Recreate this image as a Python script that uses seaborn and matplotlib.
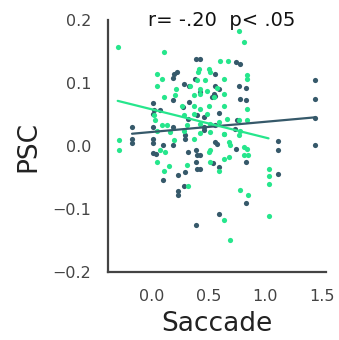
import numpy as np
import pandas as pd
import matplotlib
matplotlib.use('Agg')
import matplotlib.pyplot as plt
import seaborn as sns

# group 1 (bright green)
green_x = [-0.296, 0.114, 0.769, 0.810, 0.599, 0.672, 0.050, 0.096, 0.415, 0.406,
           0.509, 0.518, 0.401, 0.474, 0.640, 0.839, 0.839, 0.050, 0.219, 0.336,
           0.430, 0.488, 0.576, 0.108, 0.211, 0.371, 0.430, 0.547, 0.634, 0.269,
           0.371, 0.430, 0.503, 0.634, 0.839, 0.020, 0.035, 0.094, 0.138, 0.284,
           0.371, 0.488, 0.313, 0.430, 0.518, 0.591, 0.664, 0.766, 0.839, 0.050,
           0.167, 0.284, 0.518, 0.634, 0.775,
           -0.287, -0.287, 0.050, 0.108, 0.152, 0.196, 0.123, 0.313, 0.319, 0.371,
           0.430, 0.503, 0.518, 0.518, 0.591, 0.640, 0.678, 0.634, 0.678, 0.693,
           0.766, 0.810, 0.839, 0.816, 0.845, 1.029, 1.029, 1.029, 0.775, 0.845,
           0.640, 0.693, 1.029, 0.073]
green_y = [0.158, 0.149, 0.183, 0.165, 0.135, 0.135, 0.114, 0.106, 0.122, 0.117,
           0.123, 0.117, 0.105, 0.105, 0.106, 0.112, 0.107, 0.096, 0.090, 0.096,
           0.091, 0.088, 0.092, 0.078, 0.081, 0.081, 0.083, 0.078, 0.083, 0.064,
           0.064, 0.059, 0.063, 0.064, 0.059, 0.049, 0.041, 0.033, 0.034, 0.049,
           0.051, 0.051, 0.033, 0.035, 0.035, 0.038, 0.043, 0.042, 0.042, 0.024,
           0.022, 0.024, 0.022, 0.019, 0.024,
           0.009, -0.006, -0.026, -0.040, -0.031, 0.009, -0.010, -0.030, -0.064, 0.011,
           0.021, -0.010, -0.006, -0.025, -0.040, -0.021, -0.018, 0.019, 0.006, 0.001,
           0.018, -0.001, -0.005, -0.014, -0.014, -0.036, -0.047, -0.061, -0.070, -0.078,
           -0.117, -0.149, -0.111, -0.006]

# group 2 (dark slate)
dark_x = [0.395, 0.430, 0.746, 0.775, 0.196, 0.225, 0.190, 0.284, 0.327, 0.386,
          0.561, 0.561, 0.591, 0.430, 0.547, 0.532, 0.561, 0.766, 0.833, 0.775,
          0.833, 0.015, 0.190, 0.278, 0.327, 0.020, 0.015, 0.079, 0.324, 0.401,
          0.459, 0.591, 0.752, 1.439, 1.439, 1.439, -0.170, 0.015, 0.190, 0.459,
          0.561, 0.737,
          -0.170, -0.170, 0.015, 0.015, 0.102, 0.190, 0.015, 0.044, 0.298, 0.298,
          0.324, 0.392, 0.401, 0.424, 0.392, 0.401, 0.424, 0.541, 0.561, 0.576,
          0.591, 0.746, 0.830, 0.102, 0.231, 0.298, 0.231, 0.231, 0.284, 0.830,
          0.591, 0.392, 1.108, 1.108, 1.108, 1.439, 0.459]
dark_y = [0.138, 0.138, 0.133, 0.130, 0.115, 0.117, 0.108, 0.099, 0.096, 0.107,
          0.115, 0.096, 0.091, 0.085, 0.082, 0.078, 0.080, 0.096, 0.092, 0.075,
          0.073, 0.069, 0.073, 0.062, 0.070, 0.057, 0.051, 0.057, 0.043, 0.049,
          0.046, 0.053, 0.042, 0.105, 0.075, 0.044, 0.030, 0.030, 0.031, 0.030,
          0.034, 0.027,
          0.011, 0.005, 0.011, 0.005, 0.001, 0.001, -0.011, -0.013, 0.018, 0.011,
          -0.009, -0.007, -0.014, -0.014, -0.026, -0.036, -0.036, -0.027, 0.007, 0.004,
          -0.034, -0.004, -0.026, -0.054, -0.046, -0.042, -0.072, -0.077, -0.064, -0.090,
          -0.108, -0.126, 0.008, -0.006, -0.045, 0.002, 0.025]

title_text = 'r= -.20  p< .05'
x_label = 'Saccade'
y_label = 'PSC'
x_ticks = [0.0, 0.5, 1.0, 1.5]
y_ticks = [-0.2, -0.1, 0.0, 0.1, 0.2]

green = '#26e68c'
dark = '#36596a'

sns.set_style('white')
plt.rcParams['font.family'] = ['DejaVu Sans']

fig = plt.figure(figsize=(3.39, 3.40), dpi=100)
ax = fig.add_axes([0.319, 0.2, 0.643, 0.741])

df_dark = pd.DataFrame({'x': dark_x, 'y': dark_y})
df_green = pd.DataFrame({'x': green_x, 'y': green_y})

sns.regplot(data=df_dark, x='x', y='y', ax=ax, ci=None, color=dark,
            scatter_kws={'s': 14, 'linewidths': 0, 'alpha': 1},
            line_kws={'lw': 1.6})
sns.regplot(data=df_green, x='x', y='y', ax=ax, ci=None, color=green,
            scatter_kws={'s': 14, 'linewidths': 0, 'alpha': 1},
            line_kws={'lw': 1.6})

ax.set_xlim(-0.38, 1.535)
ax.set_ylim(-0.2, 0.2)
ax.set_xticks(x_ticks)
ax.set_yticks(y_ticks)
ax.tick_params(labelsize=11.5, colors='#444444', length=0, pad=12)
ax.set_xlabel(x_label, fontsize=19, color='#222222', labelpad=5)
ax.set_ylabel(y_label, fontsize=19, color='#222222', labelpad=8)
ax.text(0.52, 1.0, title_text, transform=ax.transAxes, ha='center', va='center',
        fontsize=14, color='#111111')

sns.despine(ax=ax)
for side in ['left', 'bottom']:
    ax.spines[side].set_color('#444444')
    ax.spines[side].set_linewidth(1.6)

fig.savefig('out.png', dpi=100)
